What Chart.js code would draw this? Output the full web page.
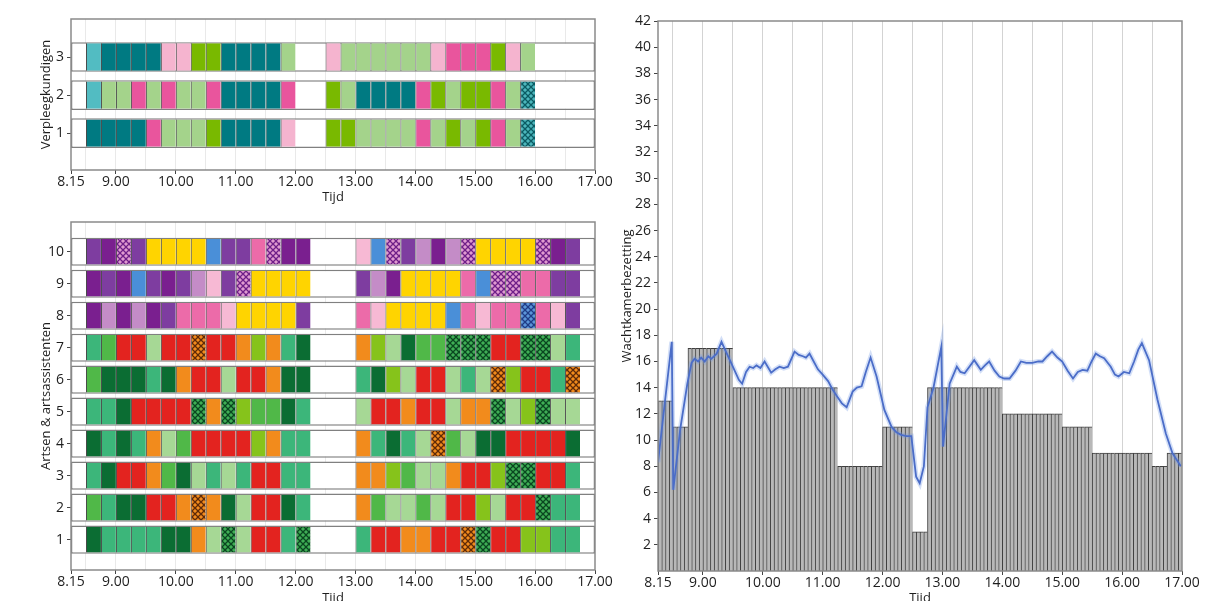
<!DOCTYPE html>
<html>
<head>
<meta charset="utf-8">
<script src="https://cdn.jsdelivr.net/npm/chart.js@4.4.1/dist/chart.umd.min.js"></script>
<style>
  html, body { margin: 0; padding: 0; background: #fff; overflow: hidden; }
  body { width: 1217px; height: 601px; position: relative; }
  .box { position: absolute; }
</style>
</head>
<body>
<div class="box" style="left:0;top:0;width:630px;height:205px"><canvas id="nurseChart"></canvas></div>
<div class="box" style="left:0;top:205px;width:630px;height:401px"><canvas id="doctorChart"></canvas></div>
<div class="box" style="left:610px;top:0;width:607px;height:606px"><canvas id="waitChart"></canvas></div>
<script>
// time axis (hours), labels as printed
const xTicks = [8.25, 8.5, 9, 9.5, 10, 10.5, 11, 11.5, 12, 12.5, 13, 13.5, 14, 14.5, 15, 15.5, 16, 16.5, 17]
const xTickLabels = ['8.15', '', '9.00', '', '10.00', '', '11.00', '', '12.00', '', '13.00', '', '14.00', '', '15.00', '', '16.00', '', '17.00']
const waitTicks = [2, 4, 6, 8, 10, 12, 14, 16, 18, 20, 22, 24, 26, 28, 30, 32, 34, 36, 38, 40, 42]

const slotLength = 0.25

// nurses, row 1..3, one letter per 15 minutes
const nurseRows = [1, 2, 3]
const nurseMorningStart = 8.5
const nurseAfternoonStart = 12.5
const nurseMorning = ['TTTTPgggGTTTTp', 'cggPgPggPTTTTP', 'cTTTTppGGTTTTg']
const nurseAfternoon = ['GGggggPgGgGPgX', 'GgTTTTPGgGGPgX', 'pggggggpPPPGpg']

// doctors & assistants, row 1..10
const doctorRows = [1, 2, 3, 4, 5, 6, 7, 8, 9, 10]
const doctorMorningStart = 8.5
const doctorAfternoonStart = 13
const doctorMorning = [
    'DmmmmDDOLKLRRmK',
    'nmDDRROJODLRRDm',
    'mDRROnDLmLmRRmm',
    'DmDmOLnRRRRyOmm',
    'mmDRRRRKOKynnDm',
    'nDDDmDORRLRRODD',
    'mnRRLRRJRROyOmD',
    'VlVlVvkkkqYYYYv',
    'VvVbvVvlqvHYYYY',
    'vVHvYYYYbvvkHVV'
]
const doctorAfternoon = [
    'mRROORRJKRRyymm',
    'OnLLnLRRyLRRKmm',
    'OOynLLORRyKKRRm',
    'OmDmLJnLDDRRRRD',
    'LRRORRLOOKLyKLL',
    'mDyLRRLmLJyRRmJ',
    'OyLDnnKKKRRKKLm',
    'kqYYYYbkqkkBkqv',
    'vlVYYYYkbHHkkvv',
    'qbHvlVlHYYYYHVv'
]

// waiting room: value per 15 minutes from 8.15, each drawn as several thin bars
const waitStart = 8.25
const waitSlotValues = [13, 11, 17, 17, 17, 14, 14, 14, 14, 14, 14, 14, 8, 8, 8, 11, 11, 3,
    14, 14, 14, 14, 14, 12, 12, 12, 12, 11, 11, 9, 9, 9, 9, 8, 9]
const barsPerSlot = 4

const meanTimes = [
    8.25, 8.48, 8.505, 8.62, 8.74, 8.81, 8.86, 8.92, 8.97, 9.03,
    9.09, 9.14, 9.23, 9.31, 9.39, 9.46, 9.53, 9.6, 9.655, 9.72,
    9.78, 9.84, 9.895, 9.96, 10.03, 10.14, 10.21, 10.28, 10.35, 10.42,
    10.53, 10.6, 10.67, 10.72, 10.78, 10.85, 10.92, 11.0, 11.09, 11.16,
    11.23, 11.32, 11.4, 11.5, 11.57, 11.65, 11.72, 11.8, 11.9, 12.03,
    12.15, 12.23, 12.31, 12.4, 12.48, 12.56, 12.62, 12.69, 12.75, 12.85,
    12.98, 13.01, 13.12, 13.24, 13.3, 13.37, 13.45, 13.53, 13.64, 13.71,
    13.78, 13.87, 13.95, 14.03, 14.12, 14.22, 14.31, 14.4, 14.5, 14.6,
    14.67, 14.75, 14.83, 14.92, 15.0, 15.09, 15.18, 15.26, 15.34, 15.42,
    15.49, 15.56, 15.63, 15.7, 15.81, 15.88, 15.94, 16.03, 16.12, 16.2,
    16.27, 16.33, 16.45, 16.59, 16.73, 16.84, 16.98
]
const meanValues = [
    8.3, 17.5, 6.2, 10.8, 14.3, 15.9, 16.2, 16.0, 16.3, 16.0,
    16.4, 16.2, 16.6, 17.5, 16.7, 16.0, 15.3, 14.6, 14.3, 15.2,
    15.6, 15.5, 15.7, 15.5, 16.0, 15.15, 15.4, 15.6, 15.5, 15.6,
    16.75, 16.5, 16.4, 16.3, 16.6, 16.0, 15.4, 15.0, 14.5, 13.9,
    13.4, 12.8, 12.5, 13.7, 14.0, 14.1, 15.2, 16.3, 14.85, 12.3,
    11.0, 10.6, 10.4, 10.3, 10.3, 7.2, 6.7, 8.0, 12.5, 14.0,
    17.1, 9.5, 14.3, 15.6, 15.2, 15.1, 15.6, 16.1, 15.36, 15.7,
    16.0, 15.3, 14.85, 14.7, 14.7, 15.3, 16.0, 15.9, 15.9, 16.0,
    16.0, 16.4, 16.75, 16.3, 16.0, 15.3, 14.7, 15.2, 15.36, 15.3,
    16.0, 16.6, 16.4, 16.25, 15.6, 15.0, 14.85, 15.2, 15.1, 16.0,
    16.9, 17.4, 16.1, 13.1, 10.5, 9.0, 8.0
]

const slotColors = {
    c: '#52bcc2', T: '#007a82', p: '#f5b4cf', P: '#e9559d', g: '#a4d38b', G: '#79b900',
    V: '#7a1f8f', v: '#7e3da0', l: '#c48cc7', k: '#ec6ba9', q: '#f7b9d4', b: '#4a8fd8', Y: '#ffd400',
    m: '#3cb67a', n: '#50b848', L: '#a6d895', D: '#0b6d33', y: '#86c31b', R: '#e3231f', O: '#f28b1c'
}
const hatchColors = {
    X: ['#4cb6bc', '#0b5b63'],
    H: ['#e09ad0', '#6e1f88'],
    B: ['#5b95d8', '#1f3c86'],
    J: ['#f28b1c', '#5e2a08'],
    K: ['#3fae55', '#0a4620']
}

const font = { family: 'Open Sans', size: 14 }
const titleFont = { family: 'Open Sans', size: 13 }
const textColor = '#1e1e1e'

function hatch(base, line) {
    const c = document.createElement('canvas')
    c.width = 6
    c.height = 6
    const g = c.getContext('2d')
    g.fillStyle = base
    g.fillRect(0, 0, 6, 6)
    g.strokeStyle = line
    g.lineWidth = 1.3
    g.beginPath()
    g.moveTo(-1, -1); g.lineTo(7, 7)
    g.moveTo(7, -1); g.lineTo(-1, 7)
    g.stroke()
    return g.createPattern(c, 'repeat')
}
const patterns = {}
Object.keys(hatchColors).forEach(k => { patterns[k] = hatch(hatchColors[k][0], hatchColors[k][1]) })
const fillFor = code => patterns[code] || slotColors[code]

function slotDataset(rows, parts, thickness) {
    const data = []
    const colors = []
    parts.forEach(([start, codes]) => {
        codes.forEach((str, r) => {
            str.split('').forEach((code, i) => {
                const s = start + i * slotLength
                data.push({ x: [s, s + slotLength], y: rows[r] })
                colors.push(fillFor(code))
            })
        })
    })
    return {
        data: data,
        backgroundColor: colors,
        borderColor: 'rgba(35,35,35,0.85)',
        borderWidth: { left: 1, right: 0, top: 0, bottom: 0 },
        borderSkipped: false,
        barPercentage: thickness,
        categoryPercentage: 1,
        grouped: false,
        order: 0
    }
}

function bandDataset(rows, thickness) {
    return {
        data: rows.map(r => ({ x: [8.25, 17], y: r })),
        backgroundColor: '#ffffff',
        borderColor: '#808080',
        borderWidth: 1.5,
        borderSkipped: false,
        barPercentage: thickness,
        categoryPercentage: 1,
        grouped: false,
        order: 1
    }
}

const framePlugin = {
    id: 'frame',
    afterDraw(chart) {
        const { ctx, chartArea: a } = chart
        ctx.save()
        ctx.strokeStyle = '#8a8a8a'
        ctx.lineWidth = 1.5
        ctx.strokeRect(a.left, a.top, a.right - a.left, a.bottom - a.top)
        ctx.restore()
    }
}

function timeAxis(height, onTop, gridColor) {
    return {
        type: 'linear',
        min: 8.25,
        max: 17,
        offset: false,
        z: onTop ? 1 : 0,
        afterBuildTicks: s => { s.ticks = xTicks.map(v => ({ value: v })) },
        afterFit: s => { s.height = height },
        ticks: {
            autoSkip: false, maxRotation: 0, minRotation: 0, padding: 0,
            color: textColor, font: font,
            callback: v => xTickLabels[xTicks.indexOf(v)]
        },
        grid: {
            offset: false,
            color: ctx => (ctx.tick && (ctx.tick.value === 8.25 || ctx.tick.value === 17)) ? 'rgba(0,0,0,0)' : gridColor,
            lineWidth: 1,
            tickLength: 4,
            tickColor: ctx => (ctx.tick && xTickLabels[xTicks.indexOf(ctx.tick.value)] !== '') ? '#444' : 'rgba(0,0,0,0)'
        },
        border: { display: false },
        title: { display: true, text: 'Tijd', padding: 0, color: textColor, font: titleFont }
    }
}

function rowAxis(rows, min, max, width, title) {
    return {
        type: 'linear',
        min: min,
        max: max,
        offset: false,
        afterBuildTicks: s => { s.ticks = rows.map(v => ({ value: v })) },
        afterFit: s => { s.width = width },
        ticks: { autoSkip: false, padding: 3, color: textColor, font: font, callback: v => String(v) },
        grid: { offset: false, drawOnChartArea: false, tickLength: 4, color: '#444' },
        border: { display: false },
        title: { display: true, text: title, padding: 0, color: textColor, font: titleFont }
    }
}

function scheduleChart(id, rows, parts, yMin, yMax, bandT, slotT, padTop, xHeight, title) {
    return new Chart(document.getElementById(id), {
        type: 'bar',
        data: { datasets: [slotDataset(rows, parts, slotT), bandDataset(rows, bandT)] },
        options: {
            indexAxis: 'y',
            responsive: true,
            maintainAspectRatio: false,
            animation: false,
            layout: { padding: { left: 38, top: padTop, right: 35, bottom: 0 } },
            plugins: { legend: { display: false }, tooltip: { enabled: false } },
            scales: {
                x: timeAxis(xHeight, true, 'rgba(215,215,215,0.55)'),
                y: rowAxis(rows, yMin, yMax, 33, title)
            }
        },
        plugins: [framePlugin]
    })
}

scheduleChart('nurseChart', nurseRows,
    [[nurseMorningStart, nurseMorning], [nurseAfternoonStart, nurseAfternoon]],
    0.03, 4, 0.78, 0.72, 19, 35, 'Verpleegkundigen')

scheduleChart('doctorChart', doctorRows,
    [[doctorMorningStart, doctorMorning], [doctorAfternoonStart, doctorAfternoon]],
    0.05, 10.93, 0.88, 0.8, 17, 36, 'Artsen & artsassistenten')

// waiting room chart
const barData = []
waitSlotValues.forEach((v, i) => {
    for (let j = 0; j < barsPerSlot; j++) {
        barData.push({ x: waitStart + i * slotLength + (j + 0.5) * slotLength / barsPerSlot, y: v })
    }
})
const meanData = meanTimes.map((t, i) => ({ x: t, y: meanValues[i] }))

new Chart(document.getElementById('waitChart'), {
    type: 'bar',
    data: {
        datasets: [
            {
                type: 'line',
                data: meanData,
                borderColor: '#4b6dc8',
                borderWidth: 1.8,
                pointRadius: 0,
                tension: 0,
                order: 0
            },
            {
                type: 'line',
                data: meanData,
                borderColor: 'rgba(110,150,230,0.3)',
                borderWidth: 5,
                pointRadius: 0,
                tension: 0,
                order: 1
            },
            {
                type: 'bar',
                data: barData,
                backgroundColor: '#b8b8b8',
                borderColor: '#3f3f3f',
                borderWidth: { left: 1, top: 1, right: 0, bottom: 0 },
                barPercentage: 1,
                categoryPercentage: 1,
                grouped: false,
                order: 2
            }
        ]
    },
    options: {
        responsive: true,
        maintainAspectRatio: false,
        animation: false,
        layout: { padding: { left: 9, top: 21, right: 35, bottom: 0 } },
        plugins: { legend: { display: false }, tooltip: { enabled: false } },
        scales: {
            x: timeAxis(35, false, 'rgba(200,200,200,0.8)'),
            y: {
                type: 'linear',
                min: 0,
                max: 42,
                afterBuildTicks: s => { s.ticks = waitTicks.map(v => ({ value: v })) },
                afterFit: s => { s.width = 39 },
                ticks: { autoSkip: false, padding: 3, color: textColor, font: font },
                grid: { drawOnChartArea: false, tickLength: 4, color: '#444' },
                border: { display: false },
                title: { display: true, text: 'Wachtkamerbezetting', padding: 0, color: textColor, font: titleFont }
            }
        }
    },
    plugins: [framePlugin]
})
</script>
</body>
</html>
